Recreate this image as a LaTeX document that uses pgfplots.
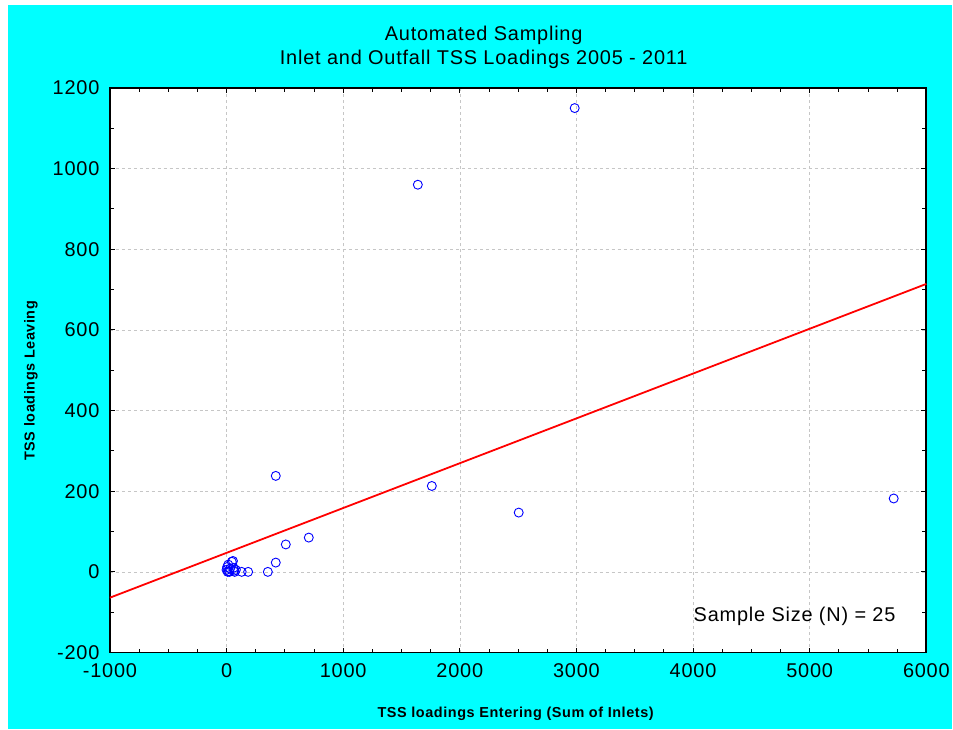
\documentclass[border=0pt]{standalone}
\usepackage{pgfplots}
\pgfplotsset{compat=1.18}
\usepackage{fontspec}
\setmainfont{Liberation Sans}[LetterSpace=4]
\definecolor{bgcyan}{RGB}{0,255,255}
\begin{document}
\begin{tikzpicture}[x=1bp,y=1bp]
\fill[white] (0,0) rectangle (953,730);
\fill[bgcyan] (8,0) rectangle (953,725);
\begin{axis}[
 at={(110bp,77bp)}, anchor=south west,
 scale only axis, width=817bp, height=565bp,
 xmin=-1000,xmax=6000,ymin=-200,ymax=1200,
 xtick={-1000,0,...,6000}, ytick={-200,0,...,1200},
 minor x tick num=3, minor y tick num=1,
 grid=major, major grid style={dashed, gray!45, line width=0.6bp},
 axis background/.style={fill=white},
 axis line style={black, line width=1.8bp},
 tick style={black, line width=0.9bp},
 major tick length=5bp, minor tick length=4bp,
 tick align=inside,
 ticklabel style={font=\fontsize{20}{22}\selectfont},
 yticklabel style={xshift=-7bp},
 xticklabel style={yshift=-8bp},
 /pgf/number format/assume math mode=true,
 /pgf/number format/set thousands separator={},
 clip=false,
]
\addplot[only marks, mark=o, mark size=4.5bp, blue, mark options={line width=0.9bp}] coordinates {
 (2985,1150) (1640,960) (5720,182) (1760,213) (2505,147)
 (422,238) (705,85) (508,68) (422,23) (354,0)
 (0,5) (5,12) (10,0) (15,18) (20,2) (30,8) (45,25) (55,27)
 (60,10) (65,3) (70,0) (80,5) (130,0) (185,0) (25,0)
};
\addplot[red, line width=1.8bp] coordinates {(-1000,-64) (6000,714)};
\end{axis}
\node[anchor=base, font=\fontsize{20}{22}\selectfont] at (484,689.7) {Automated Sampling};
\node[anchor=base, font=\fontsize{20}{22}\selectfont] at (484,665.3) {Inlet and Outfall TSS Loadings 2005 - 2011};
\node[font=\bfseries\fontsize{14.5}{16}\selectfont] at (516,16) {TSS loadings Entering (Sum of Inlets)};
\node[rotate=90, font=\bfseries\fontsize{14.5}{16}\selectfont] at (31,349) {TSS loadings Leaving};
\node[anchor=base west, inner sep=0pt, font=\fontsize{20}{22}\selectfont] at (694,108.3) {Sample Size (N) = 25};
\end{tikzpicture}
\end{document}
